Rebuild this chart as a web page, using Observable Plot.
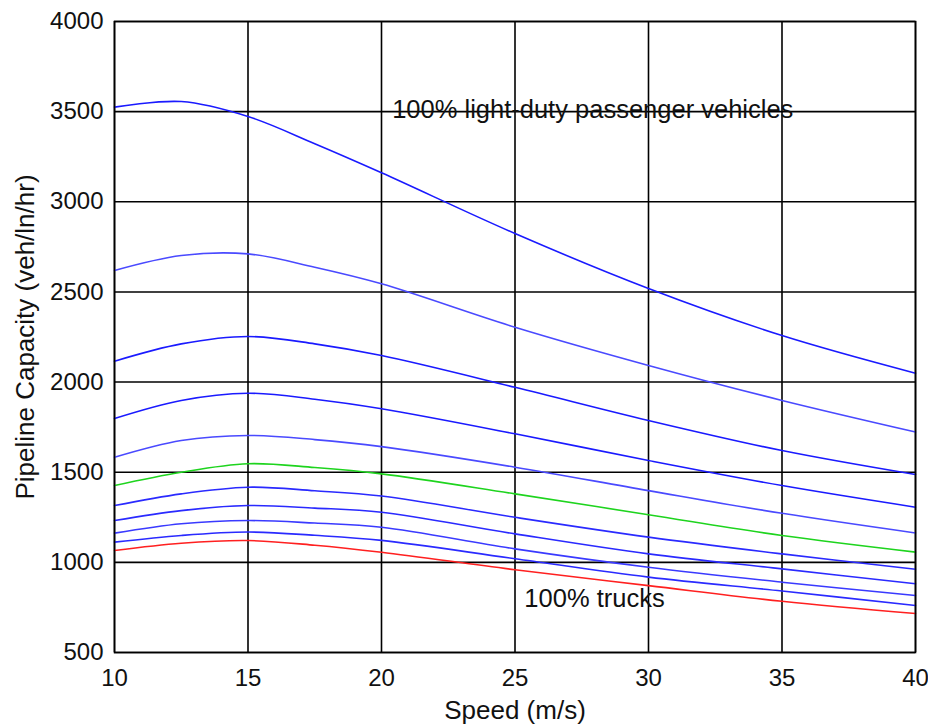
<!DOCTYPE html>
<html>
<head>
<meta charset="utf-8">
<script src="https://cdn.jsdelivr.net/npm/d3@7"></script>
<script src="https://cdn.jsdelivr.net/npm/@observablehq/plot@0.6"></script>
<style>
  html, body { margin: 0; padding: 0; background: #fff; }
  #chart svg { display: block; }
</style>
</head>
<body>
<div id="chart"></div>
<script>
// Speed samples (m/s)
const speeds = [10, 12.5, 15, 17.5, 20, 25, 30, 35, 40];

// Pipeline capacity (veh/ln/hr), from 100% light-duty (top) to 100% trucks (bottom)
const cap0   = [3525, 3556, 3473, 3322, 3161, 2824, 2519, 2258, 2049];
const cap10  = [2619, 2702, 2711, 2637, 2545, 2304, 2092, 1898, 1723];
const cap20  = [2116, 2212, 2253, 2212, 2147, 1971, 1787, 1620, 1487];
const cap30  = [1798, 1898, 1938, 1905, 1852, 1713, 1565, 1426, 1306];
const cap40  = [1583, 1676, 1704, 1681, 1642, 1528, 1398, 1272, 1163];
const cap50  = [1426, 1500, 1547, 1526, 1491, 1380, 1264, 1149, 1057];
const cap60  = [1315, 1380, 1417, 1397, 1368, 1250, 1140, 1047, 962];
const cap70  = [1232, 1287, 1315, 1301, 1278, 1158, 1047, 964, 881];
const cap80  = [1162, 1214, 1232, 1218, 1195, 1075, 973, 890, 816];
const cap90  = [1112, 1149, 1168, 1150, 1122, 1020, 918, 841, 761];
const cap100 = [1066, 1106, 1121, 1095, 1056, 959, 871, 784, 716];

const seriesNames  = ["0%", "10%", "20%", "30%", "40%", "50%", "60%", "70%", "80%", "90%", "100%"];
const seriesValues = [cap0, cap10, cap20, cap30, cap40, cap50, cap60, cap70, cap80, cap90, cap100];
const seriesColors = ["#1a1aff", "#4a4aff", "#1a1aff", "#1a1aff", "#4a4aff", "#1ed41e",
                      "#2a2aff", "#2a2aff", "#3a3aff", "#2a2aff", "#ff2020"];

const xTicks = [10, 15, 20, 25, 30, 35, 40];
const yTicks = [500, 1000, 1500, 2000, 2500, 3000, 3500, 4000];

const annotations = [
  {speed: 20.4, cap: 3510, text: "100% light-duty passenger vehicles"},
  {speed: 25.35, cap: 800, text: "100% trucks"}
];

const rows = seriesValues.map((vals, i) =>
  speeds.map((s, j) => ({speed: s, cap: vals[j], series: seriesNames[i]})));

const font = "'Liberation Sans', Arial, Helvetica, sans-serif";

const chart = Plot.plot({
  width: 928,
  height: 725,
  marginLeft: 114,
  marginRight: 13,
  marginTop: 21,
  marginBottom: 73,
  style: {fontFamily: font, fontSize: "24px", color: "#111", background: "#fff"},
  x: {domain: [10, 40], ticks: xTicks, tickSize: 0, tickPadding: 16, label: null, tickFormat: d => String(d)},
  y: {domain: [500, 4000], ticks: yTicks, tickSize: 0, tickPadding: 11, label: null, tickFormat: d => String(d)},
  marks: [
    Plot.ruleX(xTicks, {stroke: "#000", strokeWidth: 1.6}),
    Plot.ruleY(yTicks, {stroke: "#000", strokeWidth: 1.6}),
    ...rows.map((r, i) => Plot.line(r, {
      x: "speed", y: "cap", stroke: seriesColors[i], strokeWidth: 1.6, curve: "catmull-rom"
    })),
    Plot.text(annotations, {
      x: "speed", y: "cap", text: "text", textAnchor: "start",
      fontSize: 25.5, fill: "#111"
    }),
    Plot.text(["Speed (m/s)"], {
      frameAnchor: "bottom", dy: 58, fontSize: 26, fill: "#111", textAnchor: "middle", lineAnchor: "middle"
    }),
    Plot.text(["Pipeline Capacity (veh/ln/hr)"], {
      frameAnchor: "left", dx: -89, rotate: -90, fontSize: 26, fill: "#111", textAnchor: "middle", lineAnchor: "middle"
    }),
    Plot.frame({stroke: "#000", strokeWidth: 1.6})
  ]
});

document.getElementById("chart").append(chart);
</script>
</body>
</html>
